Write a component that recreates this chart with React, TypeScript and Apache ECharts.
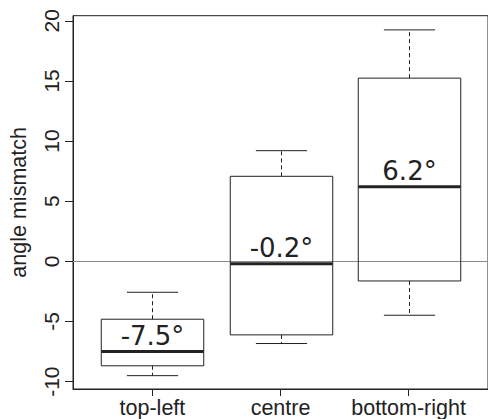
import React, { useEffect, useRef } from "react";
import * as echarts from "echarts";

const categories = ["top-left", "centre", "bottom-right"];
const whiskerLow = [-9.5, -6.83, -4.48];
const q1 = [-8.68, -6.11, -1.63];
const medians = [-7.5, -0.2, 6.2];
const q3 = [-4.81, 7.07, 15.23];
const whiskerHigh = [-2.57, 9.2, 19.24];
const yTicks = [-10, -5, 0, 5, 10, 15, 20];
const xPositions = [1, 2, 3];
const referenceLevel = [0];
const yAxisTitle = "angle mismatch";

const AXIS_FONT = "'Liberation Sans', Arial, Helvetica, sans-serif";
const LABEL_FONT = "'DejaVu Sans', Verdana, sans-serif";
const INK = "#222";

export default function App() {
  const ref = useRef<HTMLDivElement>(null);

  useEffect(() => {
    document.body.style.margin = "0";
    if (!ref.current) return;
    const chart = echarts.init(ref.current, null, { renderer: "svg" });

    const data = categories.map((_, i) => [
      xPositions[i],
      whiskerLow[i],
      q1[i],
      medians[i],
      q3[i],
      whiskerHigh[i],
    ]);

    const renderBox = (params: any, api: any) => {
      const x = api.value(0);
      const lo = api.value(1);
      const b1 = api.value(2);
      const med = api.value(3);
      const b3 = api.value(4);
      const hi = api.value(5);
      const boxW = api.size([0.8, 0])[0];
      const capW = boxW / 2;
      const pLo = api.coord([x, lo]);
      const pQ1 = api.coord([x, b1]);
      const pMed = api.coord([x, med]);
      const pQ3 = api.coord([x, b3]);
      const pHi = api.coord([x, hi]);
      const cx = Math.round(pMed[0]) + 0.5;
      const lineStyle = { stroke: INK, lineWidth: 1 };
      const dashStyle = { stroke: INK, lineWidth: 1, lineDash: [4, 3] };
      return {
        type: "group",
        children: [
          {
            type: "line",
            silent: true,
            shape: { x1: cx, y1: pQ3[1], x2: cx, y2: pHi[1] },
            style: dashStyle,
          },
          {
            type: "line",
            silent: true,
            shape: { x1: cx, y1: pQ1[1], x2: cx, y2: pLo[1] },
            style: dashStyle,
          },
          {
            type: "line",
            silent: true,
            shape: { x1: cx - capW / 2, y1: pHi[1], x2: cx + capW / 2, y2: pHi[1] },
            style: lineStyle,
          },
          {
            type: "line",
            silent: true,
            shape: { x1: cx - capW / 2, y1: pLo[1], x2: cx + capW / 2, y2: pLo[1] },
            style: lineStyle,
          },
          {
            type: "rect",
            silent: true,
            shape: {
              x: cx - boxW / 2,
              y: pQ3[1],
              width: boxW,
              height: pQ1[1] - pQ3[1],
            },
            style: { stroke: INK, lineWidth: 1, fill: "rgba(0,0,0,0)" },
          },
          {
            type: "line",
            silent: true,
            shape: { x1: cx - boxW / 2, y1: pMed[1], x2: cx + boxW / 2, y2: pMed[1] },
            style: { stroke: INK, lineWidth: 3 },
          },
          {
            type: "text",
            silent: true,
            x: cx,
            y: pMed[1] - 2.5,
            style: {
              text: `${med.toFixed(1)}°`,
              fontFamily: LABEL_FONT,
              fontSize: 26,
              fill: INK,
              align: "center",
              verticalAlign: "bottom",
            },
          },
        ],
      };
    };

    const renderZero = (params: any, api: any) => {
      const v = api.value(0);
      const cs = params.coordSys;
      const p = api.coord([1, v]);
      const y = Math.round(p[1]) + 0.5;
      return {
        type: "line",
        silent: true,
        shape: { x1: cs.x, y1: y, x2: cs.x + cs.width, y2: y },
        style: { stroke: "#8a8a8a", lineWidth: 1 },
      };
    };

    chart.setOption({
      animation: false,
      grid: {
        left: 73,
        top: 15.7,
        right: -3,
        bottom: 29,
        show: true,
        borderColor: INK,
        borderWidth: 1,
        backgroundColor: "transparent",
      },
      xAxis: {
        type: "value",
        min: 0.38,
        max: 3.62,
        splitLine: { show: false },
        axisLine: { show: true, onZero: false, lineStyle: { color: INK } },
        axisTick: {
          show: true,
          inside: false,
          length: 7,
          customValues: xPositions,
          lineStyle: { color: INK },
        },
        axisLabel: {
          customValues: xPositions,
          formatter: (v: number) => categories[Math.round(v) - 1] ?? "",
          fontFamily: AXIS_FONT,
          fontSize: 21.5,
          color: INK,
          margin: 8,
        },
      },
      yAxis: {
        type: "value",
        min: -10.61,
        max: 20.42,
        name: yAxisTitle,
        nameLocation: "middle",
        nameRotate: 90,
        nameGap: 43,
        nameTextStyle: { fontFamily: AXIS_FONT, fontSize: 21.5, color: INK },
        splitLine: { show: false },
        axisLine: { show: true, onZero: false, lineStyle: { color: INK } },
        axisTick: {
          show: true,
          inside: false,
          length: 8,
          customValues: yTicks,
          lineStyle: { color: INK },
        },
        axisLabel: {
          customValues: yTicks,
          rotate: 90,
          fontFamily: AXIS_FONT,
          fontSize: 21,
          color: INK,
          margin: 11,
        },
      },
      series: [
        {
          type: "custom",
          renderItem: renderZero,
          data: referenceLevel.map((v) => [v]),
          encode: { y: 0 },
          silent: true,
          clip: false,
          z: 1,
        },
        {
          type: "custom",
          renderItem: renderBox,
          data,
          encode: { x: 0, y: [1, 2, 3, 4, 5] },
          silent: true,
          clip: false,
          z: 2,
        },
      ],
    });

    return () => chart.dispose();
  }, []);

  return <div ref={ref} style={{ width: 488, height: 419 }} />;
}
